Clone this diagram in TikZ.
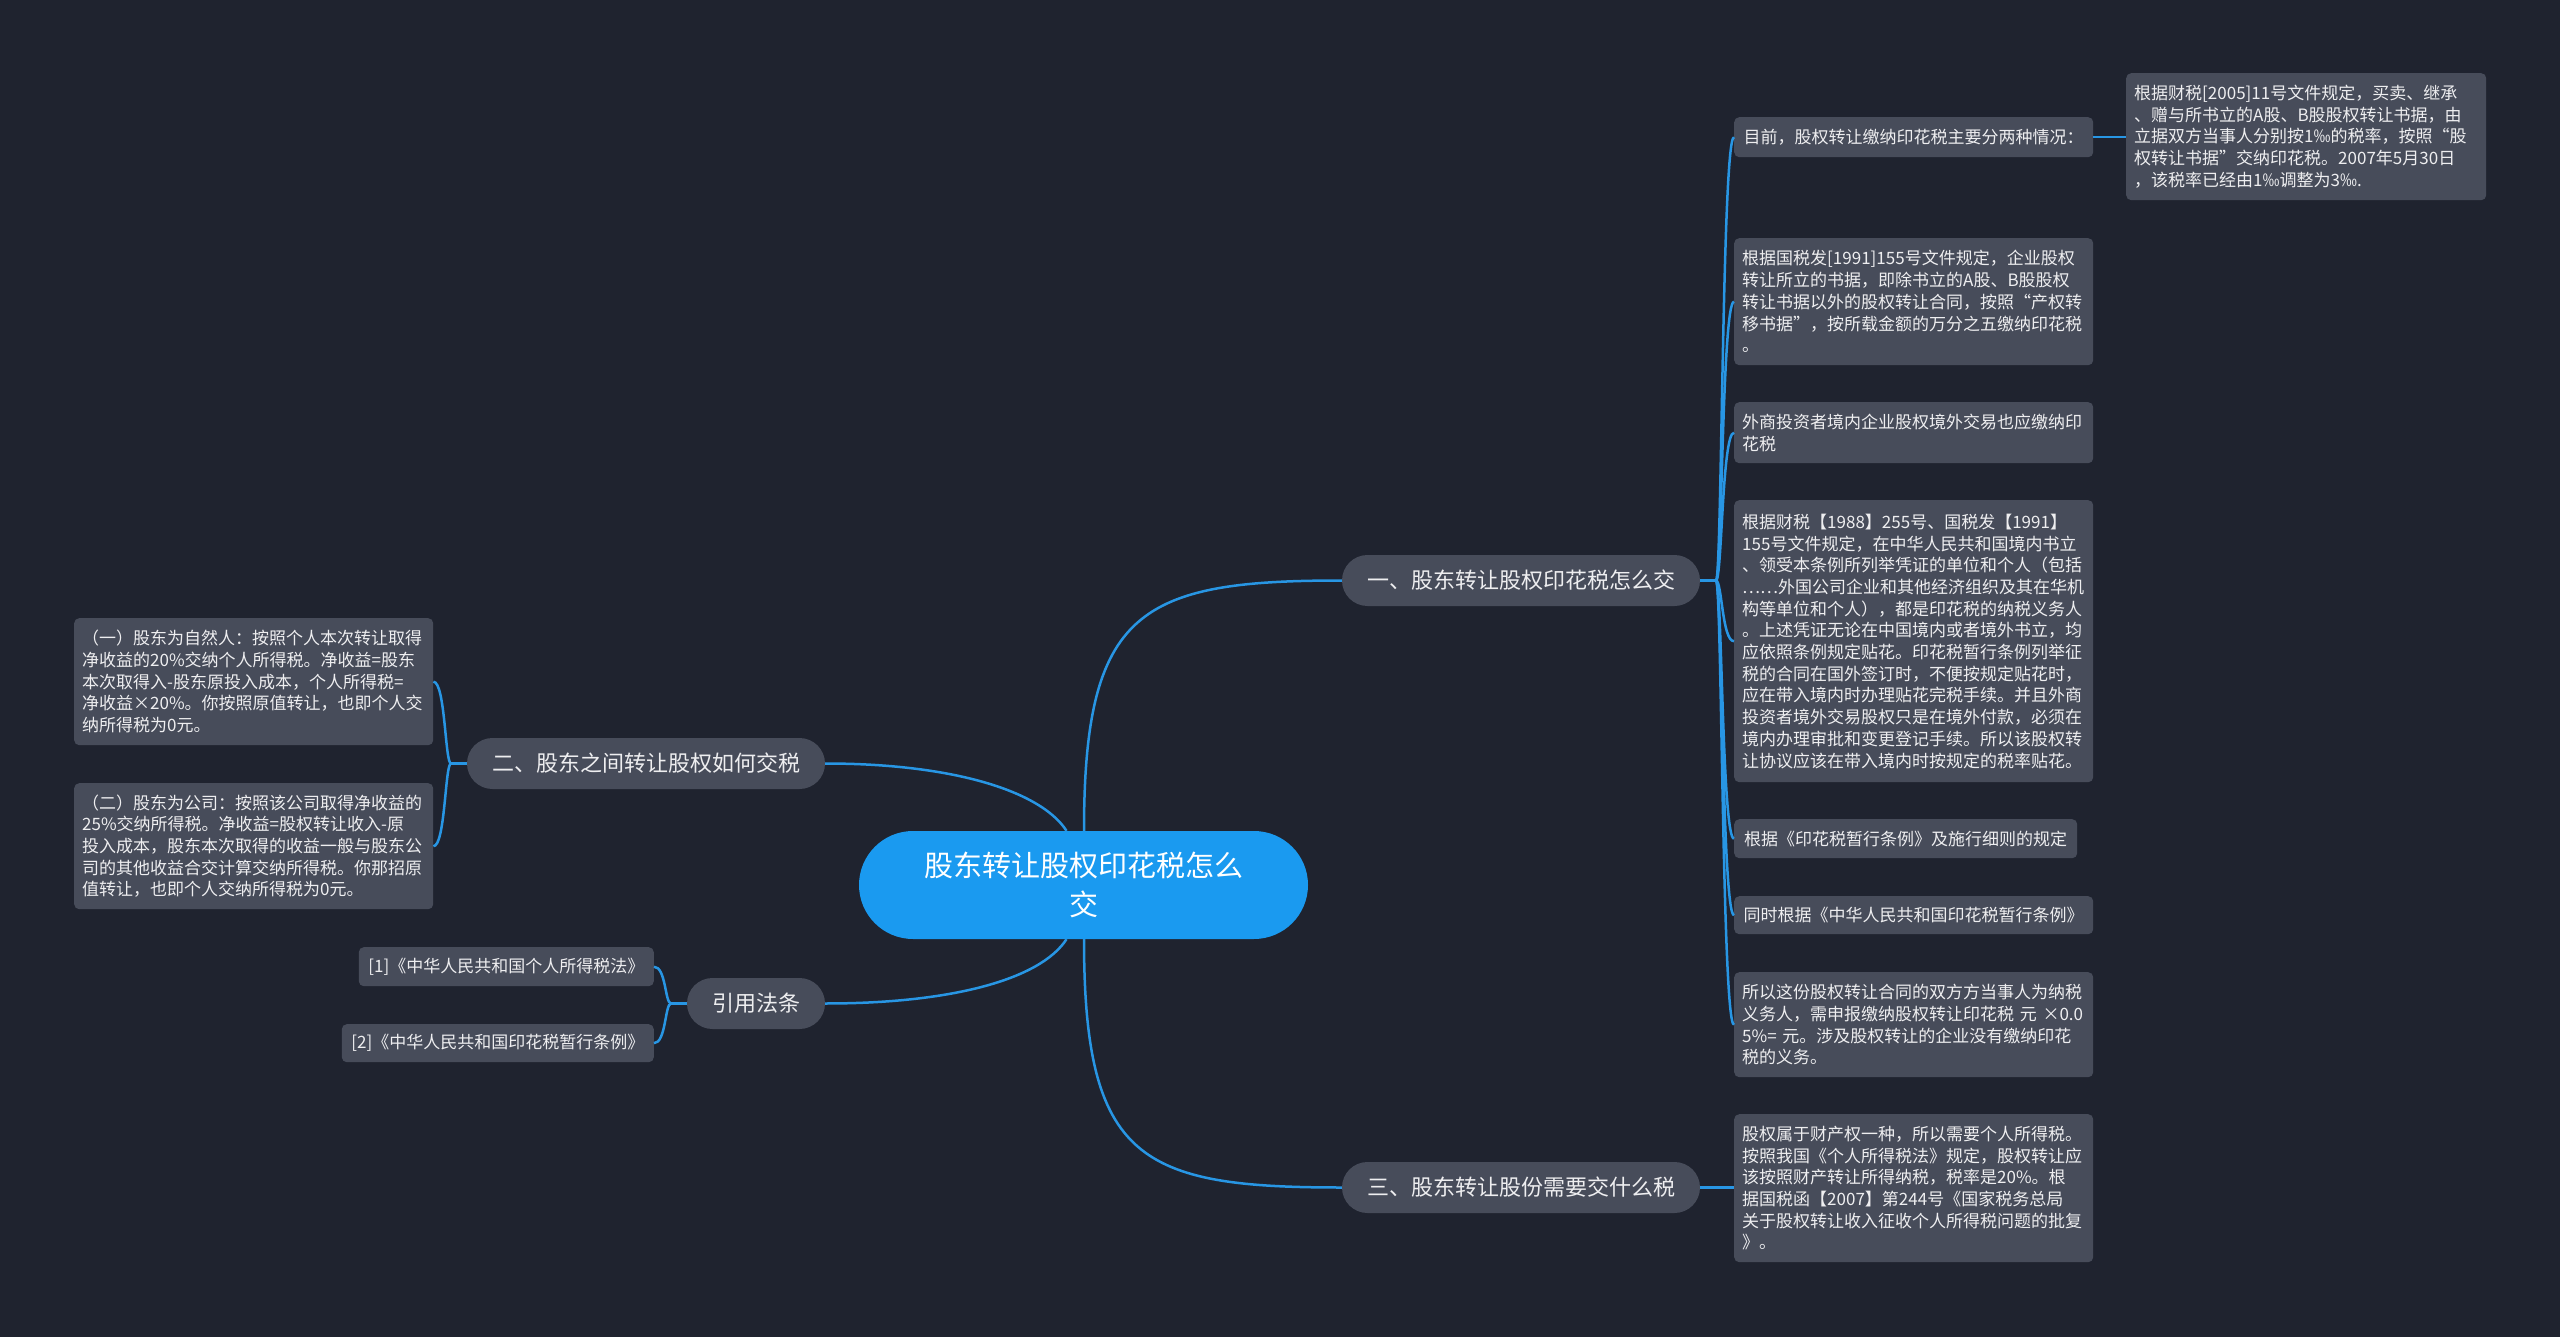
\documentclass[tikz,border=0pt]{standalone}
\usepackage{fontspec}
\setmainfont{Noto Sans CJK SC}
\usetikzlibrary{calc}
\definecolor{bgc}{RGB}{31,35,47}
\definecolor{leafc}{RGB}{71,76,90}
\definecolor{rootc}{RGB}{26,154,240}
\definecolor{linec}{RGB}{40,150,228}
\definecolor{txtc}{RGB}{238,238,240}
\newcommand\leaffont{\fontsize{17}{21.7}\selectfont}
\newcommand\branchfont{\fontsize{22}{26}\selectfont}
\newcommand\rootfont{\fontsize{29}{39}\selectfont}
\begin{document}
\begin{tikzpicture}[x=1pt,y=-1pt,
  leaf/.style={fill=leafc, rounded corners=5pt, text=txtc, font=\leaffont, align=left,
    anchor=north west, inner xsep=8pt, inner ysep=0pt},
  sleaf/.style={fill=leafc, rounded corners=5pt, text=txtc, font=\leaffont,
    inner xsep=9pt, inner ysep=0pt},
  branch/.style={rectangle, rounded corners=25.5pt, fill=leafc, text=txtc, font=\branchfont,
    minimum height=51pt, inner xsep=14pt, inner ysep=0pt},
  rootn/.style={rectangle, rounded corners=54pt, fill=rootc, text=white, font=\rootfont, align=center,
    minimum width=449pt, minimum height=108pt, inner sep=0pt},
  conn/.style={draw=linec, line width=2.5pt}]
\fill[bgc] (0,0) rectangle (2560,1337);
\useasboundingbox (0,0) rectangle (2560,1337);

% root
\node[rootn] (c) at (1083.5,885) {股东转让股权印花税怎么\\交};

% branches
\node[branch, minimum width=358pt] (b1) at (1521,580.5) {一、股东转让股权印花税怎么交};
\node[branch, minimum width=358pt] (b2) at (646,763.5) {二、股东之间转让股权如何交税};
\node[branch, minimum width=138pt] (b4) at (756,1003.5) {引用法条};
\node[branch, minimum width=358pt] (b3) at (1521,1187.5) {三、股东转让股份需要交什么税};

% right leaves
\node[leaf, text width=344pt, minimum height=127pt] (tr) at (2126,73) {根据财税[2005]11号文件规定，买卖、继承\\、赠与所书立的A股、B股股权转让书据，由\\立据双方当事人分别按1‰的税率，按照“股\\权转让书据”交纳印花税。2007年5月30日\\，该税率已经由1‰调整为3‰.};
\node[sleaf, minimum width=359pt, minimum height=40pt, anchor=north west] (l1) at (1734,117) {目前，股权转让缴纳印花税主要分两种情况：};
\node[leaf, text width=343pt, minimum height=127pt] (l2) at (1734,238) {根据国税发[1991]155号文件规定，企业股权\\转让所立的书据，即除书立的A股、B股股权\\转让书据以外的股权转让合同，按照“产权转\\移书据”，按所载金额的万分之五缴纳印花税\\。};
\node[leaf, text width=343pt, minimum height=61pt] (l3) at (1734,402) {外商投资者境内企业股权境外交易也应缴纳印\\花税};
\node[leaf, text width=343pt, minimum height=282pt] (l4) at (1734,500) {根据财税【1988】255号、国税发【1991】\\155号文件规定，在中华人民共和国境内书立\\、领受本条例所列举凭证的单位和个人（包括\\……外国公司企业和其他经济组织及其在华机\\构等单位和个人），都是印花税的纳税义务人\\。上述凭证无论在中国境内或者境外书立，均\\应依照条例规定贴花。印花税暂行条例列举征\\税的合同在国外签订时，不便按规定贴花时，\\应在带入境内时办理贴花完税手续。并且外商\\投资者境外交易股权只是在境外付款，必须在\\境内办理审批和变更登记手续。所以该股权转\\让协议应该在带入境内时按规定的税率贴花。};
\node[sleaf, minimum width=343pt, minimum height=39pt, anchor=north west] (l5) at (1734,819) {根据《印花税暂行条例》及施行细则的规定};
\node[sleaf, minimum width=359pt, minimum height=38pt, anchor=north west] (l6) at (1734,896) {同时根据《中华人民共和国印花税暂行条例》};
\node[leaf, text width=343pt, minimum height=105pt] (l7) at (1734,972) {所以这份股权转让合同的双方方当事人为纳税\\义务人，需申报缴纳股权转让印花税 元 ×0.0\\5\%= 元。涉及股权转让的企业没有缴纳印花\\税的义务。};
\node[leaf, text width=343pt, minimum height=148pt] (l8) at (1734,1114) {股权属于财产权一种，所以需要个人所得税。\\按照我国《个人所得税法》规定，股权转让应\\该按照财产转让所得纳税，税率是20\%。根\\据国税函【2007】第244号《国家税务总局\\关于股权转让收入征收个人所得税问题的批复\\》。};

% left leaves
\node[leaf, text width=343pt, minimum height=127pt] (k1) at (74,618) {（一）股东为自然人：按照个人本次转让取得\\净收益的20\%交纳个人所得税。净收益=股东\\本次取得入-股东原投入成本，个人所得税=\\净收益×20\%。你按照原值转让，也即个人交\\纳所得税为0元。};
\node[leaf, text width=343pt, minimum height=126pt] (k2) at (74,783) {（二）股东为公司：按照该公司取得净收益的\\25\%交纳所得税。净收益=股权转让收入-原\\投入成本，股东本次取得的收益一般与股东公\\司的其他收益合交计算交纳所得税。你那招原\\值转让，也即个人交纳所得税为0元。};
\node[sleaf, minimum width=295pt, minimum height=39pt, anchor=north east] (r1) at (654,947) {[1]《中华人民共和国个人所得税法》};
\node[sleaf, minimum width=312pt, minimum height=38pt, anchor=north east] (r2) at (654,1024) {[2]《中华人民共和国印花税暂行条例》};

% root connectors
\draw[conn] ($(c.north)+(0.5,0)$) .. controls (1084,610) and (1140,580.5) .. (b1.west);
\draw[conn] ($(c.north)+(-17,0)$) .. controls (1040,790) and (950,763.5) .. (b2.east);
\draw[conn] ($(c.south)+(-17,0)$) .. controls (1040,980) and (950,1003.5) .. (b4.east);
\draw[conn] ($(c.south)+(0.5,0)$) .. controls (1084,1160) and (1140,1187.5) .. (b3.west);

% branch 1 fan
\coordinate (j1) at (1716,580.5);
\draw[conn] (b1.east) -- (j1);
\foreach \n in {l1,l2,l3,l4,l5,l6,l7}
  \draw[conn] (j1) .. controls +(6,0) and +(-12,0) .. (\n.west);
\draw[conn] (l1.east) -- (tr.west |- l1.east);

% branch 3
\draw[conn] (b3.east) -- (l8.west |- b3.east);

% branch 2 fan
\coordinate (j2) at (451,763.5);
\draw[conn] (b2.west) -- (j2);
\foreach \n in {k1,k2}
  \draw[conn] (j2) .. controls +(-6,0) and +(12,0) .. (\n.east);

% refs fan
\coordinate (j4) at (671,1003.5);
\draw[conn] (b4.west) -- (j4);
\foreach \n in {r1,r2}
  \draw[conn] (j4) .. controls +(-6,0) and +(12,0) .. (\n.east);
\end{tikzpicture}
\end{document}
